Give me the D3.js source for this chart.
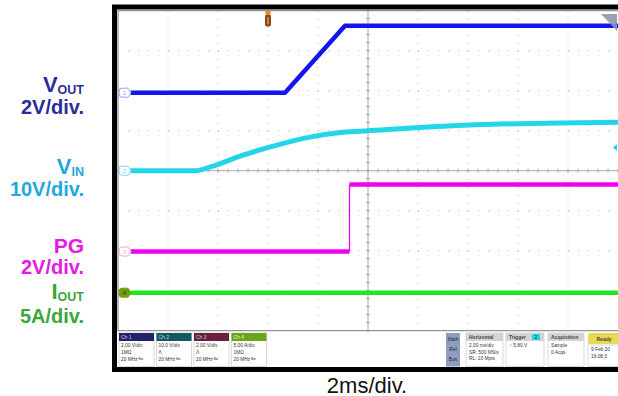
<!DOCTYPE html>
<html>
<head>
<meta charset="utf-8">
<script src="https://cdn.jsdelivr.net/npm/d3@7"></script>
<style>
body { margin: 0; background: #fff; }
svg { display: block; font-family: "Liberation Sans", Arial, sans-serif; }
</style>
</head>
<body>
<div id="scope"></div>
<script>
// traces: [time in ms from trigger, value in V (or A)]
var voutData = [[-5.5, 0], [0.68, 0], [3.08, 3.35], [14, 3.35]];
var vinData = [[-5.5, 0], [-2.9, 0], [-2.3, 0.95], [-1.0, 3.9], [0.36, 6.4], [1.68, 8.4],
    [3.0, 9.6], [4.0, 10.0], [6.4, 10.95], [9.0, 11.6], [11.7, 11.95], [14, 12.1]];
var pgData = [[-5.5, 0], [3.26, 0], [3.26, 3.35], [14, 3.35]];
var ioutData = [[-5.5, 0], [14, 0]];

var channelNums = ["1", "2", "3", "4"];
var perDiv = [2, 10, 2, 5];
var gndDiv = [1.95, 0, -2.02, -3.05];
var labelMain = [["V", "OUT"], ["V", "IN"], ["PG", ""], ["I", "OUT"]];
var labelScale = ["2V/div.", "10V/div.", "2V/div.", "5A/div."];
var timeLabel = "2ms/div.";
var triggerLevel = 5.8;

// status bar readouts
var chHeads = ["Ch 1", "Ch 2", "Ch 3", "Ch 4"];
var chLines = [["2.00 V/div", "1MΩ", "20 MHz ᴮʷ"], ["10.0 V/div", "Λ", "20 MHz ᴮʷ"],
    ["2.00 V/div", "Λ", "20 MHz ᴮʷ"], ["5.00 A/div", "1MΩ", "20 MHz ᴮʷ"]];
var infoHeads = ["Horizontal", "Trigger", "Acquisition", "Ready"];
var infoLines = [["2.00 ms/div", "SR: 500 MS/s", "RL: 10 Mpts"], ["⟋      5.80 V"],
    ["Sample", "0 Acqs"], ["9 Feb 20", "16:08:3"]];

var traceColors = ["#1414ee", "#22d6e8", "#f000f0", "#20e620"];
var labelColors = ["#2b2b9c", "#1fa8e0", "#e619e6", "#38a838"];
var markColors = ["#9a9aff", "#80d8ec", "#f0a6c8", "#6f9c12"];
var headColors = ["#22226a", "#115a62", "#6a1f3e", "#6ba51a"];

var W = 618, H = 396;
var plot = { left: 118, right: 618, top: 10.7, bottom: 330.7 };

var svg = d3.select("#scope").append("svg")
    .attr("width", W).attr("height", H);

// outer black frame
svg.append("rect")
    .attr("x", 114.5).attr("y", 7)
    .attr("width", 540).attr("height", 362.5)
    .attr("fill", "#fff").attr("stroke", "#000").attr("stroke-width", 5);

var x = d3.scaleLinear().domain([-6, 14]).range([plot.left, plot.right]);
var yDiv = d3.scaleLinear().domain([-4, 4]).range([plot.bottom, plot.top]);

function yFor(c) {
    return function (v) { return yDiv(gndDiv[c] + v / perDiv[c]); };
}

// graticule
var grid = svg.append("g");
grid.selectAll(".gv")
    .data(d3.range(-4, 14, 2).filter(function (t) { return t !== 4; }))
    .enter().append("line")
    .attr("x1", function (d) { return x(d); }).attr("x2", function (d) { return x(d); })
    .attr("y1", plot.top).attr("y2", plot.bottom)
    .attr("stroke", "#c4c4c4").attr("stroke-width", 1.2)
    .attr("stroke-dasharray", "1.2,6.8");
grid.selectAll(".gh")
    .data(d3.range(-3, 4, 1).filter(function (d) { return d !== 0; }))
    .enter().append("line")
    .attr("x1", plot.left).attr("x2", plot.right)
    .attr("y1", function (d) { return yDiv(d); }).attr("y2", function (d) { return yDiv(d); })
    .attr("stroke", "#c4c4c4").attr("stroke-width", 1.2)
    .attr("stroke-dasharray", "1.2,8.8");

// centre lines with minor ticks
grid.append("line")
    .attr("x1", x(4)).attr("x2", x(4)).attr("y1", plot.top).attr("y2", plot.bottom)
    .attr("stroke", "#a8a8a8");
grid.append("line")
    .attr("x1", plot.left).attr("x2", plot.right).attr("y1", yDiv(0)).attr("y2", yDiv(0))
    .attr("stroke", "#a8a8a8");
grid.selectAll(".tx")
    .data(d3.range(-6, 14.01, 0.4))
    .enter().append("line")
    .attr("x1", function (d) { return x(d); }).attr("x2", function (d) { return x(d); })
    .attr("y1", yDiv(0) - 2).attr("y2", yDiv(0) + 2)
    .attr("stroke", "#a8a8a8");
grid.selectAll(".ty")
    .data(d3.range(-4, 4.01, 0.2))
    .enter().append("line")
    .attr("x1", x(4) - 2).attr("x2", x(4) + 2)
    .attr("y1", function (d) { return yDiv(d); }).attr("y2", function (d) { return yDiv(d); })
    .attr("stroke", "#a8a8a8");

grid.append("rect")
    .attr("x", plot.left).attr("y", plot.top)
    .attr("width", plot.right - plot.left + 5).attr("height", plot.bottom - plot.top)
    .attr("fill", "none").attr("stroke", "#7a7a7a").attr("stroke-width", 1);

svg.append("clipPath").attr("id", "clip").append("rect")
    .attr("x", plot.left).attr("y", plot.top)
    .attr("width", plot.right - plot.left).attr("height", plot.bottom - plot.top);

var traces = svg.append("g").attr("clip-path", "url(#clip)");
var allData = [voutData, vinData, pgData, ioutData];
var widths = [4.5, 5, 4.5, 4.5];

allData.forEach(function (data, c) {
    var y = yFor(c);
    // split at vertical jumps; jumps are drawn thin like the scope edge
    var runs = [[data[0]]];
    for (var i = 1; i < data.length; i++) {
        if (data[i][0] === data[i - 1][0]) {
            traces.append("line")
                .attr("x1", x(data[i][0])).attr("x2", x(data[i][0]))
                .attr("y1", y(data[i - 1][1])).attr("y2", y(data[i][1]))
                .attr("stroke", traceColors[c]).attr("stroke-width", 1.3);
            runs.push([data[i]]);
        } else {
            runs[runs.length - 1].push(data[i]);
        }
    }
    var line = d3.line()
        .x(function (d) { return x(d[0]); })
        .y(function (d) { return y(d[1]); })
        .curve(c === 1 ? d3.curveMonotoneX : d3.curveLinear);
    runs.forEach(function (r) {
        traces.append("path")
            .attr("d", line(r))
            .attr("fill", "none")
            .attr("stroke", traceColors[c])
            .attr("stroke-width", widths[c])
            .attr("stroke-linejoin", "round");
    });
});

// ground markers on the left edge
channelNums.forEach(function (n, c) {
    var gy = yDiv(gndDiv[c]);
    var g = svg.append("g").attr("transform", "translate(" + (plot.left + 1) + "," + gy + ")");
    var filled = c === 3;
    g.append("path")
        .attr("d", "M3,-4.5 H9 L12,0 L9,4.5 H3 Q0,4.5 0,1.5 V-1.5 Q0,-4.5 3,-4.5 Z")
        .attr("fill", filled ? markColors[c] : "#fff")
        .attr("stroke", markColors[c]).attr("stroke-width", 1);
    g.append("text")
        .attr("x", 5.5).attr("y", 2.2)
        .attr("text-anchor", "middle")
        .attr("font-size", 6)
        .attr("fill", filled ? "#2a3a05" : markColors[c])
        .text(n);
});

// trigger position marker (top)
var tp = svg.append("g").attr("transform", "translate(" + x(0) + ",0)");
tp.append("rect").attr("x", -2.5).attr("y", 11).attr("width", 5).attr("height", 3.5).attr("fill", "#f08a10");
tp.append("rect").attr("x", -3).attr("y", 14.5).attr("width", 6).attr("height", 12).attr("rx", 2)
    .attr("fill", "#8a4a18");
tp.append("line").attr("x1", 0).attr("x2", 0).attr("y1", 17).attr("y2", 24)
    .attr("stroke", "#e8c080").attr("stroke-width", 1);

// trigger level marker (right)
svg.append("path")
    .attr("d", "M" + (plot.right - 5) + "," + yFor(1)(triggerLevel) + " l4,-3.5 v7 z")
    .attr("fill", traceColors[1]);

// off-screen marker top right
svg.append("path")
    .attr("d", "M601,14 H617 V31 Z")
    .attr("fill", "#8c96ac").attr("opacity", 0.9);

// channel labels on the left
var labels = [[91.7, 114.3], [174, 196], [253, 274], [299, 322.5]];
labelMain.forEach(function (lab, c) {
    var t = svg.append("text")
        .attr("x", 84).attr("y", labels[c][0])
        .attr("text-anchor", "end")
        .attr("font-weight", "bold")
        .attr("fill", labelColors[c]);
    t.append("tspan").attr("font-size", c === 2 ? 21 : 22).text(lab[0]);
    if (lab[1]) t.append("tspan").attr("font-size", 12.5).attr("dy", 2.3).text(lab[1]);
    svg.append("text")
        .attr("x", 84).attr("y", labels[c][1])
        .attr("text-anchor", "end")
        .attr("font-weight", "bold")
        .attr("font-size", 20)
        .attr("fill", labelColors[c])
        .text(labelScale[c]);
});

svg.append("text")
    .attr("x", 367).attr("y", 392.5)
    .attr("text-anchor", "middle")
    .attr("font-size", 22)
    .attr("fill", "#111")
    .text(timeLabel);

// status bar
var bar = svg.append("g");
var barTop = 333, barBottom = 366.5;
chHeads.forEach(function (h, i) {
    var bx = 119 + i * 37.5;
    bar.append("rect").attr("x", bx).attr("y", barTop).attr("width", 35).attr("height", barBottom - barTop)
        .attr("fill", "#fff").attr("stroke", "#cfcfcf").attr("stroke-width", 0.8);
    bar.append("rect").attr("x", bx).attr("y", barTop).attr("width", 35).attr("height", 8)
        .attr("fill", headColors[i]);
    bar.append("text").attr("x", bx + 2).attr("y", barTop + 6).attr("font-size", 5)
        .attr("fill", i === 3 ? "#e8f5c8" : "#c8c8e8").text(h);
    chLines[i].forEach(function (s, k) {
        bar.append("text").attr("x", bx + 2).attr("y", barTop + 14 + k * 7)
            .attr("font-size", 4.8).attr("fill", "#333").text(s);
    });
});

bar.append("rect").attr("x", 446).attr("y", barTop).attr("width", 14).attr("height", barBottom - barTop)
    .attr("fill", "#8e9dbf");
["Math", "Ref", "Bus"].forEach(function (s, k) {
    bar.append("text").attr("x", 453).attr("y", barTop + 8 + k * 10).attr("text-anchor", "middle")
        .attr("font-size", 4.8).attr("fill", "#223").text(s);
});

var infoBox = [[466, 37], [506, 38], [548, 36], [588, 32]];
infoHeads.forEach(function (h, i) {
    var bx = infoBox[i][0], bw = infoBox[i][1];
    var ready = i === 3;
    bar.append("rect").attr("x", bx).attr("y", barTop + (ready ? 12 : 0)).attr("width", bw)
        .attr("height", barBottom - barTop - (ready ? 12 : 0))
        .attr("fill", "#fff").attr("stroke", "#cfcfcf").attr("stroke-width", 0.8);
    bar.append("rect").attr("x", bx).attr("y", barTop).attr("width", bw).attr("height", ready ? 11 : 8)
        .attr("rx", ready ? 2 : 0)
        .attr("fill", ready ? "#e8da4e" : "#d4d4d4");
    bar.append("text").attr("x", ready ? bx + bw / 2 : bx + 3).attr("y", barTop + (ready ? 7.5 : 6))
        .attr("text-anchor", ready ? "middle" : "start")
        .attr("font-size", 5).attr("font-weight", "bold").attr("fill", "#444").text(h);
    infoLines[i].forEach(function (s, k) {
        bar.append("text").attr("x", bx + 3).attr("y", barTop + (ready ? 18 : 14) + k * 6.5)
            .attr("font-size", 4.8).attr("fill", "#333").text(s);
    });
});
// trigger source badge
bar.append("rect").attr("x", 532).attr("y", barTop + 1).attr("width", 8).attr("height", 6)
    .attr("fill", traceColors[1]);
bar.append("text").attr("x", 536).attr("y", barTop + 6).attr("text-anchor", "middle")
    .attr("font-size", 5).attr("fill", "#034").text("2");
</script>
</body>
</html>
